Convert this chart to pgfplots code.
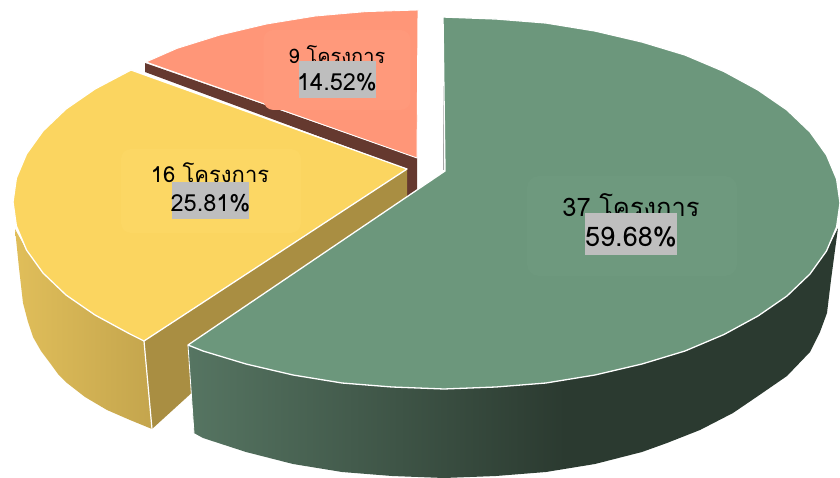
\documentclass[border=0pt]{standalone}
\usepackage{pgfplots}
\pgfplotsset{compat=1.18}
\usepackage{fontspec}
\setmainfont{Liberation Sans}
\newfontfamily\thaifont[Script=Thai]{Loma}
\definecolor{gtop}{RGB}{108,151,124}
\definecolor{gbox}{RGB}{110,153,126}
\definecolor{ga}{RGB}{86,117,98}
\definecolor{gb}{RGB}{43,58,48}
\definecolor{ytop}{RGB}{251,213,96}
\definecolor{ybox}{RGB}{252,215,100}
\definecolor{ya}{RGB}{224,190,90}
\definecolor{yb}{RGB}{196,165,77}
\definecolor{yin}{RGB}{169,142,66}
\definecolor{stop}{RGB}{255,150,120}
\definecolor{sbox}{RGB}{255,153,123}
\definecolor{sin}{RGB}{101,57,47}
\definecolor{lab}{RGB}{190,190,190}
\pgfdeclarehorizontalshading{greenside}{100bp}{color(0bp)=(ga);color(25bp)=(ga);color(54bp)=(gb);color(100bp)=(gb)}
\pgfdeclarehorizontalshading{yellowside}{100bp}{color(0bp)=(ya);color(25bp)=(ya);color(75bp)=(yb);color(100bp)=(yb)}
\begin{document}
\begin{tikzpicture}[line join=round]
\useasboundingbox (0,0) rectangle (840pt,478pt);
\begin{axis}[at={(0,0)},anchor=south west,scale only axis,width=840pt,height=478pt,xmin=0,xmax=840,ymin=0,ymax=478,y dir=reverse,axis lines=none,clip=true]
% smallest slice: side and top
\addplot[fill=sin,draw=none] coordinates {(145,63)(417,158)(417,192)(407,197)(407,169)(145,72)} --cycle;
\addplot[fill=stop,draw=white,line width=0.9pt] coordinates {(418,10)(366,11.6)(315.5,16)(266.5,24)(220,35)(177,48.4)(146,62)(417,158)} --cycle;
% middle slice: sides and top
\addplot[fill=yin,draw=none] coordinates {(144,341)(407,169)(407,197)(152,429)} --cycle;
\addplot[shade,shading=yellowside,draw=none] coordinates {(15,229)(19,268)(23,303)(28,322)(33,337)(41,351)(50,363)(58,374)(67,383)(85,397)(107,410)(130,420)(152,429)(144,341)(129,333.5)(95,315)(66,295)(43,273)(26.5,250)} --cycle;
\addplot[white,line width=1.2pt] coordinates {(144,341)(152,429)};
\addplot[fill=ytop,draw=white,line width=1.3pt] coordinates {(131,70)(407,169)(144,341)(129,333.5)(95,315)(66,295)(43,273)(26.5,250)(16.4,226)(13,202)(16.4,178)(26.5,154)(43,131)(66,109)(95,89)} --cycle;
% largest slice: side and top
\addplot[gray!70,line width=0.6pt] coordinates {(443,60)(443,170)};
\addplot[shade,shading=greenside,draw=none] coordinates {(188,345)(194,433)(203,438)(246,452)(293,464)(342,472)(392,476)(444,478)(496,476)(546,472)(595,464)(642,452)(667,443)(700,430)(733,413)(758,396)(787,376)(810,352)(820,332)(827,313)(831,280)(835,250)(838,228)(826.5,251)(810,274)(787,296)(758,316)(724,334.5)(685,351)(642,364)(595,375)(546,383)(496,387)(444,389)(392,387)(342,383)(293,375)(246,364)(203,351)} --cycle;
\addplot[white,line width=0.8pt] coordinates {(188,345)(194,433)};
\addplot[fill=gtop,draw=white,line width=1.3pt] coordinates {(443,17)(496,19)(546,23)(595,31)(642,42)(685,55)(724,71.5)(758,90)(787,110)(810,132)(826.5,155)(836.6,179)(840,203)(836.6,227)(826.5,251)(810,274)(787,296)(758,316)(724,334.5)(685,351)(642,364)(595,375)(546,383)(496,387)(444,389)(392,387)(342,383)(293,375)(246,364)(203,351)(188,345)(445,171)} --cycle;
% soft label panels
\node[fill=gbox,rounded corners=12pt,minimum width=210pt,minimum height=100pt,inner sep=0pt] at (axis cs:632,226) {};
\node[fill=ybox,rounded corners=10pt,minimum width=180pt,minimum height=84pt,inner sep=0pt] at (axis cs:211,191) {};
\node[fill=sbox,rounded corners=10pt,minimum width=147pt,minimum height=80pt,inner sep=0pt] at (axis cs:337,70) {};
% labels
\node[font=\fontsize{25.5}{25}\selectfont\thaifont,inner sep=0pt] at (axis cs:631,205) {37 โครงการ};
\node[fill=lab,minimum width=92pt,minimum height=42pt,inner sep=0pt] at (axis cs:631,234) {};
\node[font=\fontsize{27}{27}\selectfont\thaifont,inner sep=0pt] at (axis cs:631,237) {59.68\%};
\node[font=\fontsize{22}{22}\selectfont\thaifont,inner sep=0pt] at (axis cs:210,173) {16 โครงการ};
\node[fill=lab,minimum width=77pt,minimum height=37pt,inner sep=0pt] at (axis cs:210.5,201) {};
\node[font=\fontsize{23.5}{24}\selectfont\thaifont,inner sep=0pt] at (axis cs:210.5,203) {25.81\%};
\node[font=\fontsize{20}{22}\selectfont\thaifont,inner sep=0pt] at (axis cs:337,55) {9 โครงการ};
\node[fill=lab,minimum width=77pt,minimum height=37pt,inner sep=0pt] at (axis cs:337,79.5) {};
\node[font=\fontsize{23.5}{24}\selectfont\thaifont,inner sep=0pt] at (axis cs:337,82) {14.52\%};
\end{axis}
\end{tikzpicture}
\end{document}
